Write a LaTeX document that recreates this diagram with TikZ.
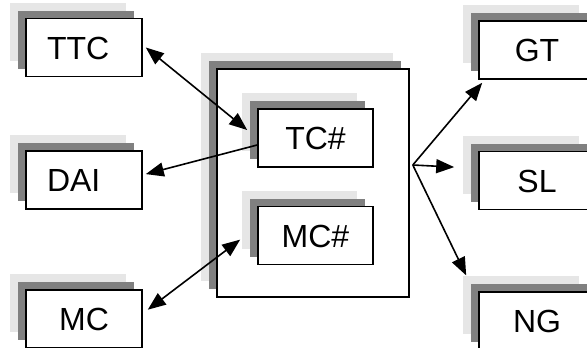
\documentclass[tikz,border=0pt]{standalone}
\usepackage{fontspec}
\setmainfont{Liberation Sans}
\usetikzlibrary{positioning,shadows,arrows.meta}
\definecolor{shadelight}{HTML}{E6E6E6}
\definecolor{shadedark}{HTML}{808080}
\tikzset{
  module/.style={draw, line width=1.6pt, fill=white, minimum width=116pt, minimum height=58pt,
    inner sep=0pt, text height=23pt, text depth=0pt, font=\fontsize{32}{36}\selectfont,
    general shadow={fill=shadelight, shadow xshift=-16pt, shadow yshift=16pt},
    general shadow={fill=shadedark, shadow xshift=-8pt, shadow yshift=8pt}},
  leftmodule/.style={module, text width=74pt, inner xsep=21pt, align=left},
  link/.style={line width=1.6pt, -{Triangle[length=18pt,width=14pt]}},
  biglink/.style={line width=1.6pt, {Triangle[length=18pt,width=14pt]}-{Triangle[length=18pt,width=14pt]}}
}
\begin{document}
\begin{tikzpicture}[x=1pt, y=-1pt]
\useasboundingbox (0,0) rectangle (587,348);
\clip (0,0) rectangle (587,348);
% left column
\node[leftmodule] (TTC) at (84,47.5) {TTC};
\node[leftmodule, below=73pt of TTC] (DAI) {DAI};
\node[module, below=79pt of DAI] (MC) {MC};
% system box
\node[module, minimum width=192pt, minimum height=228pt] (system) at (313,183) {};
\node[module, minimum width=115pt] (TC) at (315.5,138) {TC\#};
\node[module, minimum width=115pt, below=38pt of TC] (MCc) {MC\#};
% right column
\node[module] (GT) at (537,50) {GT};
\node[module, below=71pt of GT] (SL) {SL};
\node[module, below=81pt of SL] (NG) {NG};
% links
\draw[biglink] ([xshift=3pt]TTC.east) -- ([xshift=-10pt, yshift=8pt]TC.west);
\draw[link] ([yshift=-7pt]TC.west) -- ([xshift=3pt, yshift=6pt]DAI.east);
\draw[biglink] ([xshift=5pt, yshift=9pt]MC.east) -- ([xshift=-17pt, yshift=-4pt]MCc.west);
\coordinate (hub) at ([xshift=3pt, yshift=18pt]system.east);
\draw[link] (hub) -- ([xshift=4pt, yshift=-3pt]GT.south west);
\draw[link] (hub) -- ([xshift=-24pt, yshift=13.5pt]SL.west);
\draw[link] (hub) -- ([xshift=-12pt, yshift=16pt]NG.north west);
\end{tikzpicture}
\end{document}
